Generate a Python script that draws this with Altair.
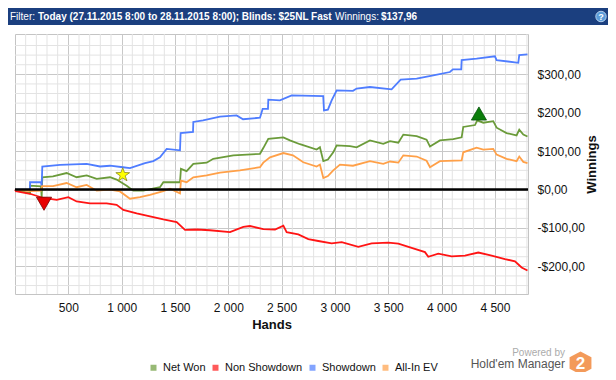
import altair as alt
import pandas as pd

# ---------------- data ----------------
series_names = ["Net Won", "Non Showdown", "Showdown", "All-In EV"]
series_colors = ["#6b9b3a", "#ff1414", "#4f7dff", "#ffa048"]

net_hands = [0, 141, 141, 244, 250, 256, 356, 484, 578, 672, 766, 891, 953, 1047, 1109, 1203, 1359, 1391,
             1547, 1556, 1609, 1672, 1797, 1859, 2047, 2297, 2328, 2375, 2516, 2578, 2672, 2828, 2859, 2891,
             2934, 2984, 3016, 3141, 3203, 3328, 3453, 3516, 3594, 3641, 3766, 3859, 3891, 3984, 4109, 4188,
             4203, 4313, 4334, 4391, 4484, 4516, 4609, 4703, 4728, 4766, 4805]
net_vals = [0, -10, 10, 8, -20, 32, 34, 43, 32, 37, 28, 32, 26, 10, -3, -3, 6, 19,
            19, 54, 48, 67, 70, 80, 89, 93, 108, 132, 136, 128, 118, 104, 110, 74,
            78, 97, 115, 113, 110, 128, 119, 126, 122, 143, 139, 130, 112, 128, 131, 136,
            163, 168, 180, 174, 178, 161, 147, 141, 156, 143, 138]

nsd_hands = [0, 9, 141, 266, 391, 500, 578, 703, 859, 953, 1016, 1141, 1266, 1391, 1516, 1594, 1703, 1828,
             2016, 2141, 2203, 2328, 2438, 2516, 2547, 2656, 2750, 2844, 2969, 3063, 3219, 3344, 3500, 3594,
             3719, 3844, 3875, 3969, 4094, 4219, 4344, 4469, 4594, 4688, 4750, 4805]
nsd_vals = [0, -4, -11, -22, -27, -20, -31, -36, -36, -40, -53, -62, -70, -78, -85, -105, -104, -106,
            -111, -97, -95, -103, -104, -94, -111, -117, -129, -134, -140, -137, -149, -140, -138, -141,
            -152, -163, -175, -167, -174, -172, -164, -172, -181, -187, -203, -211]

sd_hands = [0, 141, 141, 244, 250, 256, 422, 672, 797, 891, 1012, 1078, 1219, 1297, 1359, 1422, 1547, 1553,
            1669, 1672, 1763, 1922, 2078, 2138, 2297, 2322, 2372, 2375, 2484, 2594, 2890, 2897, 2934, 2969,
            3016, 3169, 3203, 3328, 3531, 3616, 3766, 3922, 4078, 4106, 4184, 4188, 4328, 4500, 4516, 4719,
            4728, 4805]
sd_vals = [0, 0, 19, 19, 9, 60, 64, 67, 60, 62, 58, 56, 69, 74, 84, 106, 102, 147,
           150, 176, 180, 190, 193, 183, 187, 210, 210, 234, 232, 245, 243, 206, 208, 232,
           258, 257, 263, 267, 261, 286, 289, 297, 306, 313, 313, 337, 341, 347, 337, 330,
           350, 352]

ev_hands = [0, 141, 244, 253, 356, 484, 578, 672, 766, 891, 984, 1078, 1172, 1266, 1391, 1453, 1547, 1556,
            1609, 1672, 1797, 1922, 2109, 2297, 2328, 2391, 2516, 2606, 2703, 2828, 2859, 2891, 2934, 2984,
            3047, 3169, 3328, 3453, 3516, 3594, 3641, 3766, 3859, 3891, 3984, 4188, 4203, 4328, 4391, 4484,
            4516, 4609, 4703, 4728, 4766, 4805]
ev_vals = [0, -4, -3, 9, 9, 17, 6, 12, -3, 0, -5, -24, -20, -14, -4, 2, -10, 23,
           19, 32, 37, 44, 50, 58, 70, 84, 95, 89, 71, 60, 65, 30, 35, 50,
           65, 62, 74, 67, 73, 70, 89, 86, 75, 58, 74, 76, 97, 109, 104, 106,
           91, 80, 74, 86, 72, 69]

# markers
star_hands, star_vals = [1010], [38]
max_hands, max_vals = [4350], [198]
min_hands, min_vals = [272], [-37]

x_labels = [500, 1000, 1500, 2000, 2500, 3000, 3500, 4000, 4500]
y_labels = [-200, -100, 0, 100, 200, 300]
x_minor = [v for v in range(100, 4810, 100) if v % 500]
y_minor = [v for v in range(-250, 401, 25) if v % 100]

header_parts = ["Filter:", "Today (27.11.2015 8:00 to 28.11.2015 8:00); Blinds: $25NL Fast",
                "Winnings:", "$137,96"]

STAR_PATH = ("M0,-1L0.247,-0.34L0.951,-0.309L0.34,0.13L0.588,0.809L0,0.42L-0.588,0.809"
             "L-0.34,0.13L-0.951,-0.309L-0.247,-0.34Z")
HEX_PATH = "M0,-1L0.95,-0.5L0.95,0.5L0,1L-0.95,0.5L-0.95,-0.5Z"

# ---------------- build tables ----------------
rows = []
for name, hs, vs in [("Net Won", net_hands, net_vals), ("Non Showdown", nsd_hands, nsd_vals),
                     ("Showdown", sd_hands, sd_vals), ("All-In EV", ev_hands, ev_vals)]:
    for i, (h, v) in enumerate(zip(hs, vs)):
        rows.append({"series": name, "hands": h, "value": v, "idx": i})
df = pd.DataFrame(rows)

FONT = "Liberation Sans"
W, H = 513, 260

xscale = alt.Scale(domain=[0, 4810], nice=False, zero=False)
yscale = alt.Scale(domain=[-272, 405], nice=False, zero=False)
cscale = alt.Scale(domain=series_names, range=series_colors)

x_axis = alt.Axis(values=x_labels, title="Hands", grid=True, gridColor="#c8c8c8",
                  domain=False, ticks=False, tickSize=0, labelPadding=8,
                  labelExpr="replace(format(datum.value, ','), ',', ' ')",
                  labelFont=FONT, labelFontSize=12, labelColor="#111",
                  titleFont=FONT, titleFontSize=13, titleFontWeight="bold",
                  titleColor="#111", titlePadding=5)
y_axis = alt.Axis(orient="right", values=y_labels, title="Winnings", grid=True,
                  gridColor="#c8c8c8", domain=False, ticks=False, tickSize=0,
                  labelPadding=9, labelAlign="left",
                  labelExpr="(datum.value < 0 ? '-' : '') + '$' + format(abs(datum.value), 'd') + ',00'",
                  labelFont=FONT, labelFontSize=12, labelColor="#111",
                  titleFont=FONT, titleFontSize=13, titleFontWeight="bold",
                  titleColor="#111", titleAngle=270, titlePadding=14)


def X(field):
    return alt.X(field, scale=xscale, axis=x_axis)


def Y(field):
    return alt.Y(field, scale=yscale, axis=y_axis)


minor_x = alt.Chart(pd.DataFrame({"v": x_minor})).mark_rule(color="#e3e3e3", strokeWidth=1).encode(
    x=X("v:Q"))
minor_y = alt.Chart(pd.DataFrame({"v": y_minor})).mark_rule(color="#e3e3e3", strokeWidth=1).encode(
    y=Y("v:Q"))

line_layers = []
for name, col in zip(series_names, series_colors):
    line_layers.append(
        alt.Chart(df).transform_filter(alt.datum.series == name).mark_line(
            strokeWidth=1.8, interpolate="linear", color=col
        ).encode(x=X("hands:Q"), y=Y("value:Q"), order=alt.Order("idx:Q"))
    )

legend_layer = alt.Chart(pd.DataFrame({"series": series_names})).mark_square(size=36, filled=True).encode(
    x=alt.value(-300), y=alt.value(-300),
    color=alt.Color("series:N", scale=cscale,
                    legend=alt.Legend(orient="none", legendX=133, legendY=328, direction="horizontal",
                                      title=None, symbolType="square", symbolSize=36,
                                      symbolStrokeWidth=0, labelFont=FONT, labelFontSize=11,
                                      labelColor="#111", labelOffset=4, columnPadding=4, padding=0)),
)

zero = alt.Chart(pd.DataFrame({"z": [0]})).mark_rule(color="#000", strokeWidth=2.5).encode(
    y=Y("z:Q"))

star = alt.Chart(pd.DataFrame({"h": star_hands, "v": star_vals})).mark_point(
    shape=STAR_PATH, size=210, filled=True, fill="#ffff00", stroke="#8a8a20", strokeWidth=0.8, opacity=1
).encode(x=X("h:Q"), y=Y("v:Q"))
tri_up = alt.Chart(pd.DataFrame({"h": max_hands, "v": max_vals})).mark_point(
    shape="triangle-up", size=230, filled=True, fill="#0a7d0a", stroke="#05500a", strokeWidth=0.8, opacity=1
).encode(x=X("h:Q"), y=Y("v:Q"))
tri_down = alt.Chart(pd.DataFrame({"h": min_hands, "v": min_vals})).mark_point(
    shape="triangle-down", size=230, filled=True, fill="#e80000", stroke="#7a0000", strokeWidth=0.8, opacity=1
).encode(x=X("h:Q"), y=Y("v:Q"))

# header bar
one = pd.DataFrame({"a": [0]})
header_bar = alt.Chart(one).mark_rect(color="#1b3f7f").encode(
    x=alt.value(-7), x2=alt.value(593), y=alt.value(-26), y2=alt.value(-9))
hx = [-5, 23, 320, 366]
hw = ["normal", "bold", "normal", "bold"]
header_texts = []
for t, xx, ww in zip(header_parts, hx, hw):
    header_texts.append(
        alt.Chart(pd.DataFrame({"t": [t]})).mark_text(
            align="left", baseline="middle", font=FONT, fontSize=10, fontWeight=ww, color="#ffffff"
        ).encode(text="t:N", x=alt.value(xx), y=alt.value(-17.5)))
help_circle = alt.Chart(one).mark_point(shape="circle", size=110, filled=True, fill="#5b9bd8",
                                        stroke="#cfe3f7", strokeWidth=0.8, opacity=1).encode(
    x=alt.value(586), y=alt.value(-17.5))
help_text = alt.Chart(pd.DataFrame({"t": ["?"]})).mark_text(
    font=FONT, fontSize=9, fontWeight="bold", color="#ffffff", baseline="middle").encode(
    text="t:N", x=alt.value(586), y=alt.value(-17))

# logo
powered = alt.Chart(pd.DataFrame({"t": ["Powered by"]})).mark_text(
    align="right", baseline="middle", font=FONT, fontSize=10, color="#ababab").encode(
    text="t:N", x=alt.value(550), y=alt.value(319))
hm = alt.Chart(pd.DataFrame({"t": ["Hold'em Manager"]})).mark_text(
    align="right", baseline="middle", font=FONT, fontSize=12, color="#555555").encode(
    text="t:N", x=alt.value(550), y=alt.value(330))
hexagon = alt.Chart(one).mark_point(
    shape=HEX_PATH, size=530, filled=True,
    fill="#f39a5a", strokeWidth=0, opacity=1).encode(x=alt.value(565.5), y=alt.value(329))
two = alt.Chart(pd.DataFrame({"t": ["2"]})).mark_text(
    font=FONT, fontSize=17, fontWeight="bold", color="#ffffff", baseline="middle").encode(
    text="t:N", x=alt.value(565.5), y=alt.value(330))

chart = alt.layer(
    minor_x, minor_y, *line_layers, legend_layer, zero, star, tri_up, tri_down,
    header_bar, *header_texts, help_circle, help_text, powered, hm, hexagon, two
).properties(
    width=W, height=H,
    autosize=alt.AutoSizeParams(type="none"),
    padding={"left": 7, "top": 26, "right": 80, "bottom": 78},
).configure(
    font=FONT, background="#ffffff"
).configure_view(
    stroke="#c4c4c4", strokeWidth=1
)

chart.save("out.html", embed_options={"renderer": "svg", "actions": False})
